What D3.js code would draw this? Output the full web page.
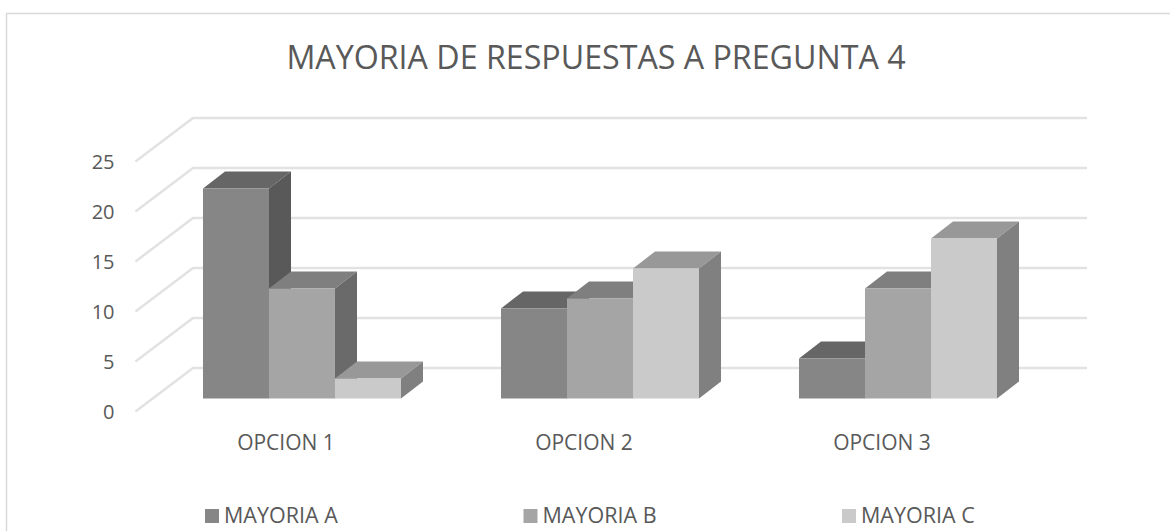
<!DOCTYPE html>
<html><head><meta charset="utf-8">
<script src="https://cdnjs.cloudflare.com/ajax/libs/d3/7.8.5/d3.min.js"></script>
<style>html,body{margin:0;padding:0;background:#fff}svg{display:block}text{font-family:"Open Sans",sans-serif;fill:#595959}</style>
</head><body><svg id="c" width="1170" height="531"></svg>
<script>
const title = "MAYORIA DE RESPUESTAS A PREGUNTA 4";
const categories = ["OPCION 1","OPCION 2","OPCION 3"];
const seriesNames = ["MAYORIA A","MAYORIA B","MAYORIA C"];
const mayoriaA = [21,9,4];
const mayoriaB = [11,10,11];
const mayoriaC = [2,13,16];
const yTicks = [0,5,10,15,20,25];
const seriesValues = [mayoriaA,mayoriaB,mayoriaC];
const frontColors = ["#868686","#a5a5a5","#cacaca"];
const topColors = ["#666666","#7f7f7f","#989898"];
const sideColors = ["#595959","#6a6a6a","#808080"];

const svg = d3.select("#c");
const depthX = 22, depthY = 17;
const y = d3.scaleLinear().domain([0,25]).range([398.5,148.5]);
const x0 = d3.scaleBand().domain(categories).range([153,1047]);
const barW = 66;
const x1 = d3.scaleBand().domain(seriesNames).range([0,barW*3]);
const legendScale = d3.scalePoint().domain(seriesNames).range([205,842]);

// frame
svg.append("path").attr("d","M6.5,531V13.5H1170").attr("fill","none").attr("stroke","#d9d9d9").attr("stroke-width",1.5);

// gridlines
const wallDy = 43.5;
const gy = v => y(v) - 30.5;
svg.append("g").selectAll("path").data(yTicks).join("path")
  .attr("d",v=>`M135.5,${gy(v)+wallDy}L193,${gy(v)}H1087`)
  .attr("fill","none").attr("stroke","#e2e2e2").attr("stroke-width",2.5);

// axis labels via d3 axis
const axisY = d3.axisLeft(d3.scaleLinear().domain([0,25]).range([412.5,162.5])).tickValues(yTicks).tickSize(0).tickPadding(0);
const ga = svg.append("g").attr("transform","translate(114.5,0)").call(axisY);
ga.select(".domain").remove();
ga.selectAll("text").attr("font-size",20).attr("style","font-family:'Open Sans',sans-serif;fill:#595959");

// bars, drawn back to front, left to right
categories.forEach((cat,ci)=>{
  const gx = x0(cat) + (x0.bandwidth()-barW*3)/2;
  seriesNames.forEach((s,si)=>{
    const v = seriesValues[si][ci];
    const L = gx + x1(s), R = L + x1.bandwidth(), T = y(v), B = y(0);
    const g = svg.append("g");
    g.append("path").attr("d",`M${L},${T}l${depthX},${-depthY}H${R+depthX}L${R},${T}Z`).attr("fill",topColors[si]);
    g.append("path").attr("d",`M${R},${T}l${depthX},${-depthY}V${B-depthY}L${R},${B}Z`).attr("fill",sideColors[si]);
    g.append("rect").attr("x",L).attr("y",T).attr("width",R-L).attr("height",B-T).attr("fill",frontColors[si]);
  });
});

// category labels
svg.append("g").selectAll("text").data(categories).join("text")
  .attr("x",d=>x0(d)+x0.bandwidth()/2-16).attr("y",450).attr("text-anchor","middle")
  .attr("font-size",21).text(d=>d);

// legend
const lg = svg.append("g").selectAll("g").data(seriesNames).join("g")
  .attr("transform",d=>`translate(${legendScale(d)},0)`);
lg.append("rect").attr("y",509).attr("width",14).attr("height",14).attr("fill",(d,i)=>frontColors[i]);
lg.append("text").attr("x",19).attr("y",523).attr("font-size",21.5).text(d=>d);

// title
svg.append("text").attr("x",596).attr("y",68.5).attr("text-anchor","middle").attr("font-size",32.2).text(title);
</script></body></html>
